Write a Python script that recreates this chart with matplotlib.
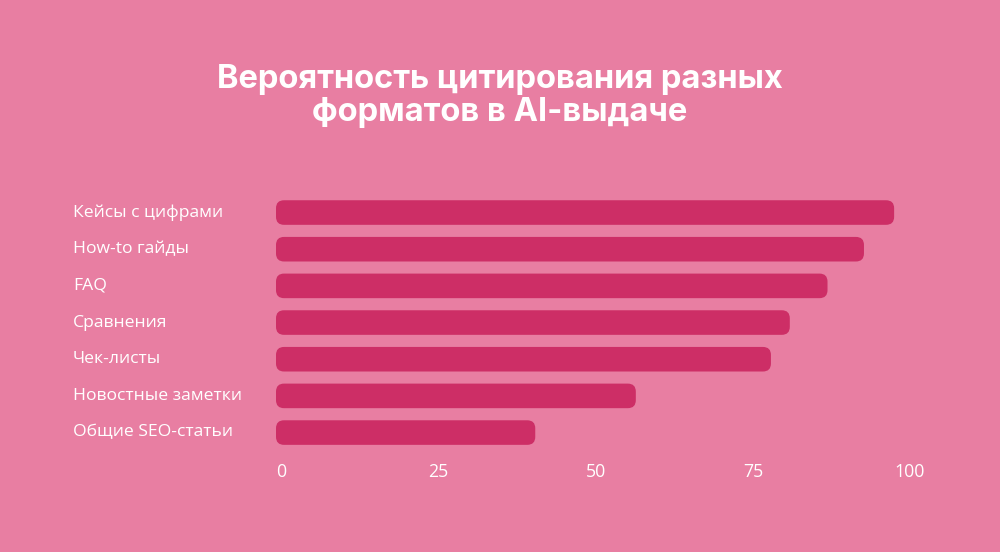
import matplotlib
matplotlib.use("Agg")
import matplotlib.pyplot as plt
from matplotlib.patches import FancyBboxPatch
import matplotlib.transforms as mtransforms

categories = ["Кейсы с цифрами", "How-to гайды", "FAQ", "Сравнения",
              "Чек-листы", "Новостные заметки", "Общие SEO-статьи"]
values = [96.6, 91.8, 86, 80, 77, 55.5, 39.5]
xticks = [0, 25, 50, 75, 100]
title = "Вероятность цитирования разных\nформатов в AI-выдаче"

BG = "#E87EA2"
BAR = "#CD2E66"
W, H = 1000, 552

fig = plt.figure(figsize=(W / 100, H / 100), dpi=100)
fig.patch.set_facecolor(BG)

left_px, right_px = 281.5, 910.0
top_px, bot_px = 194.2, 450.9
ax = fig.add_axes([left_px / W, 1 - bot_px / H, (right_px - left_px) / W, (bot_px - top_px) / H])
ax.set_facecolor("none")
ax.set_xlim(0, 100)
ax.set_ylim(len(categories) - 0.5, -0.5)
for s in ax.spines.values():
    s.set_visible(False)

px_per_x = (right_px - left_px) / 100
px_per_y = (bot_px - top_px) / len(categories)
cap = 5.5 / px_per_x
radius_px = 8
rs = radius_px / px_per_x
aspect = px_per_x / px_per_y
bh = 0.67

for i, v in enumerate(values):
    p = FancyBboxPatch((-cap, i - bh / 2), v + 2 * cap, bh,
                       boxstyle=f"round,pad=0,rounding_size={rs}",
                       mutation_aspect=aspect, facecolor=BAR, edgecolor="none",
                       clip_on=False)
    ax.add_patch(p)

trans = mtransforms.blended_transform_factory(fig.transFigure, ax.transData)
for i, c in enumerate(categories):
    ax.text(73 / W, i, c, transform=trans, ha="left", va="center",
            color="white", fontsize=12.6, family="Open Sans")

ax.set_yticks([])
ax.set_xticks(xticks)
ax.set_xticklabels([str(t) for t in xticks], color="white", fontsize=12.8, family="Open Sans")
ax.tick_params(axis="x", length=0, pad=8.5)

fig.text(0.5, 1 - 96 / H, title, ha="center", va="center", color="white",
         fontsize=23.5, fontweight="bold", family="Inter", linespacing=1.05)

fig.savefig("out.png", dpi=100, facecolor=BG)
